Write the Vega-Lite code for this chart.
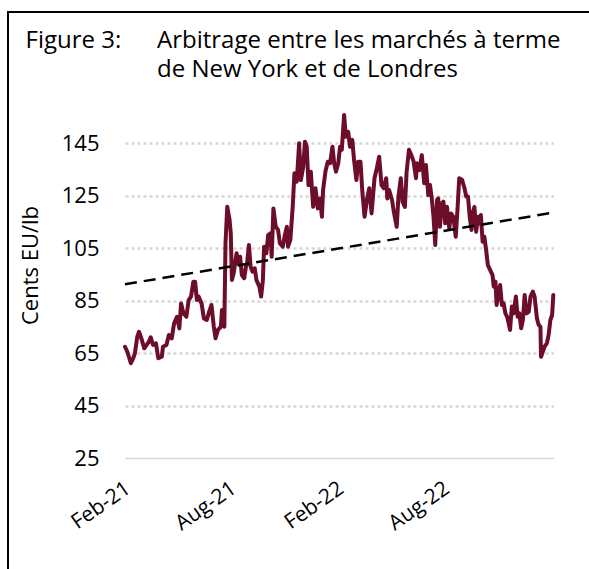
{
  "$schema": "https://vega.github.io/schema/vega-lite/v6.json",
  "width": 584,
  "height": 560,
  "autosize": {"type": "none"},
  "padding": {"left": 8, "top": 12, "right": -3, "bottom": -3},
  "background": "white",
  "view": {"stroke": "#000000", "strokeWidth": 2, "fill": "white"},
  "title": {
    "text": ["Arbitrage entre les marchés à terme", "de New York et de Londres"],
    "anchor": "start",
    "frame": "group",
    "orient": "top",
    "offset": 0,
    "dx": 149,
    "dy": 89,
    "baseline": "alphabetic",
    "lineHeight": 29,
    "font": "Open Sans",
    "fontSize": 24,
    "fontWeight": "normal",
    "color": "#000000"
  },
  "datasets": {
    "series": [
      {"date": "2021-01-26", "value": 67.5},
      {"date": "2021-01-30", "value": 65.6},
      {"date": "2021-02-05", "value": 61.2},
      {"date": "2021-02-09", "value": 63.1},
      {"date": "2021-02-12", "value": 65.0},
      {"date": "2021-02-16", "value": 71.3},
      {"date": "2021-02-19", "value": 73.2},
      {"date": "2021-02-23", "value": 70.7},
      {"date": "2021-02-28", "value": 66.9},
      {"date": "2021-03-04", "value": 68.2},
      {"date": "2021-03-08", "value": 69.4},
      {"date": "2021-03-11", "value": 71.1},
      {"date": "2021-03-15", "value": 68.2},
      {"date": "2021-03-20", "value": 68.8},
      {"date": "2021-03-24", "value": 63.1},
      {"date": "2021-03-30", "value": 63.7},
      {"date": "2021-04-01", "value": 67.5},
      {"date": "2021-04-07", "value": 68.2},
      {"date": "2021-04-11", "value": 72.0},
      {"date": "2021-04-16", "value": 70.7},
      {"date": "2021-04-20", "value": 76.4},
      {"date": "2021-04-25", "value": 78.9},
      {"date": "2021-04-29", "value": 74.5},
      {"date": "2021-05-02", "value": 84.0},
      {"date": "2021-05-06", "value": 80.2},
      {"date": "2021-05-11", "value": 78.9},
      {"date": "2021-05-15", "value": 85.3},
      {"date": "2021-05-19", "value": 86.6},
      {"date": "2021-05-23", "value": 92.3},
      {"date": "2021-05-26", "value": 92.3},
      {"date": "2021-05-29", "value": 85.3},
      {"date": "2021-06-01", "value": 86.6},
      {"date": "2021-06-06", "value": 84.0},
      {"date": "2021-06-10", "value": 78.3},
      {"date": "2021-06-15", "value": 77.7},
      {"date": "2021-06-19", "value": 80.8},
      {"date": "2021-06-23", "value": 83.4},
      {"date": "2021-06-27", "value": 75.1},
      {"date": "2021-06-30", "value": 70.7},
      {"date": "2021-07-04", "value": 73.9},
      {"date": "2021-07-09", "value": 75.1},
      {"date": "2021-07-11", "value": 81.5},
      {"date": "2021-07-15", "value": 75.1},
      {"date": "2021-07-17", "value": 106.9},
      {"date": "2021-07-20", "value": 120.8},
      {"date": "2021-07-24", "value": 115.8},
      {"date": "2021-07-26", "value": 110.7},
      {"date": "2021-07-28", "value": 92.9},
      {"date": "2021-07-31", "value": 95.5},
      {"date": "2021-08-02", "value": 98.6},
      {"date": "2021-08-05", "value": 103.1},
      {"date": "2021-08-08", "value": 99.3},
      {"date": "2021-08-11", "value": 101.8},
      {"date": "2021-08-14", "value": 94.8},
      {"date": "2021-08-18", "value": 93.6},
      {"date": "2021-08-21", "value": 98.0},
      {"date": "2021-08-23", "value": 99.3},
      {"date": "2021-08-26", "value": 106.3},
      {"date": "2021-08-29", "value": 98.0},
      {"date": "2021-09-01", "value": 96.1},
      {"date": "2021-09-05", "value": 97.4},
      {"date": "2021-09-08", "value": 92.9},
      {"date": "2021-09-13", "value": 90.4},
      {"date": "2021-09-16", "value": 86.6},
      {"date": "2021-09-19", "value": 92.9},
      {"date": "2021-09-21", "value": 105.6},
      {"date": "2021-09-25", "value": 103.1},
      {"date": "2021-09-28", "value": 110.0},
      {"date": "2021-10-02", "value": 110.7},
      {"date": "2021-10-04", "value": 101.8},
      {"date": "2021-10-07", "value": 120.2},
      {"date": "2021-10-11", "value": 113.2},
      {"date": "2021-10-15", "value": 112.0},
      {"date": "2021-10-18", "value": 106.9},
      {"date": "2021-10-23", "value": 105.6},
      {"date": "2021-10-26", "value": 109.4},
      {"date": "2021-10-30", "value": 113.2},
      {"date": "2021-11-01", "value": 105.6},
      {"date": "2021-11-05", "value": 108.2},
      {"date": "2021-11-09", "value": 120.8},
      {"date": "2021-11-12", "value": 133.6},
      {"date": "2021-11-16", "value": 130.4},
      {"date": "2021-11-20", "value": 145.0},
      {"date": "2021-11-23", "value": 131.0},
      {"date": "2021-11-27", "value": 136.1},
      {"date": "2021-11-30", "value": 145.6},
      {"date": "2021-12-03", "value": 143.7},
      {"date": "2021-12-06", "value": 129.1},
      {"date": "2021-12-10", "value": 134.2},
      {"date": "2021-12-14", "value": 120.8},
      {"date": "2021-12-18", "value": 127.9},
      {"date": "2021-12-22", "value": 120.2},
      {"date": "2021-12-26", "value": 124.0},
      {"date": "2021-12-29", "value": 117.0},
      {"date": "2021-12-31", "value": 127.2},
      {"date": "2022-01-04", "value": 134.2},
      {"date": "2022-01-08", "value": 138.0},
      {"date": "2022-01-12", "value": 137.4},
      {"date": "2022-01-16", "value": 143.7},
      {"date": "2022-01-19", "value": 137.4},
      {"date": "2022-01-22", "value": 134.2},
      {"date": "2022-01-26", "value": 137.4},
      {"date": "2022-01-29", "value": 143.7},
      {"date": "2022-02-01", "value": 142.5},
      {"date": "2022-02-05", "value": 155.8},
      {"date": "2022-02-08", "value": 147.5},
      {"date": "2022-02-12", "value": 149.4},
      {"date": "2022-02-15", "value": 143.7},
      {"date": "2022-02-19", "value": 146.3},
      {"date": "2022-02-22", "value": 138.6},
      {"date": "2022-02-26", "value": 131.0},
      {"date": "2022-03-01", "value": 138.0},
      {"date": "2022-03-05", "value": 138.0},
      {"date": "2022-03-08", "value": 127.2},
      {"date": "2022-03-12", "value": 117.0},
      {"date": "2022-03-16", "value": 123.4},
      {"date": "2022-03-20", "value": 127.9},
      {"date": "2022-03-24", "value": 118.3},
      {"date": "2022-03-29", "value": 131.7},
      {"date": "2022-04-02", "value": 135.5},
      {"date": "2022-04-06", "value": 139.9},
      {"date": "2022-04-10", "value": 129.1},
      {"date": "2022-04-14", "value": 127.9},
      {"date": "2022-04-18", "value": 131.7},
      {"date": "2022-04-20", "value": 124.0},
      {"date": "2022-04-23", "value": 127.2},
      {"date": "2022-04-28", "value": 123.4},
      {"date": "2022-05-01", "value": 119.0},
      {"date": "2022-05-06", "value": 113.2},
      {"date": "2022-05-09", "value": 124.7},
      {"date": "2022-05-13", "value": 131.7},
      {"date": "2022-05-16", "value": 122.8},
      {"date": "2022-05-20", "value": 120.8},
      {"date": "2022-05-23", "value": 134.2},
      {"date": "2022-05-27", "value": 142.5},
      {"date": "2022-05-31", "value": 140.5},
      {"date": "2022-06-04", "value": 138.0},
      {"date": "2022-06-08", "value": 131.7},
      {"date": "2022-06-10", "value": 137.4},
      {"date": "2022-06-14", "value": 134.8},
      {"date": "2022-06-18", "value": 140.5},
      {"date": "2022-06-22", "value": 129.8},
      {"date": "2022-06-25", "value": 136.7},
      {"date": "2022-06-29", "value": 125.3},
      {"date": "2022-07-02", "value": 129.1},
      {"date": "2022-07-05", "value": 124.0},
      {"date": "2022-07-08", "value": 117.0},
      {"date": "2022-07-11", "value": 106.3},
      {"date": "2022-07-14", "value": 123.4},
      {"date": "2022-07-16", "value": 124.0},
      {"date": "2022-07-19", "value": 113.2},
      {"date": "2022-07-22", "value": 122.1},
      {"date": "2022-07-25", "value": 122.8},
      {"date": "2022-07-28", "value": 114.5},
      {"date": "2022-07-31", "value": 120.8},
      {"date": "2022-08-04", "value": 112.6},
      {"date": "2022-08-07", "value": 118.3},
      {"date": "2022-08-11", "value": 117.0},
      {"date": "2022-08-15", "value": 109.4},
      {"date": "2022-08-18", "value": 119.6},
      {"date": "2022-08-21", "value": 131.7},
      {"date": "2022-08-26", "value": 131.0},
      {"date": "2022-08-30", "value": 127.9},
      {"date": "2022-09-02", "value": 124.7},
      {"date": "2022-09-05", "value": 124.7},
      {"date": "2022-09-08", "value": 117.0},
      {"date": "2022-09-11", "value": 112.0},
      {"date": "2022-09-13", "value": 118.3},
      {"date": "2022-09-16", "value": 120.8},
      {"date": "2022-09-19", "value": 111.3},
      {"date": "2022-09-22", "value": 117.0},
      {"date": "2022-09-25", "value": 114.5},
      {"date": "2022-09-27", "value": 117.7},
      {"date": "2022-09-30", "value": 107.5},
      {"date": "2022-10-03", "value": 109.4},
      {"date": "2022-10-06", "value": 104.4},
      {"date": "2022-10-09", "value": 98.6},
      {"date": "2022-10-13", "value": 96.7},
      {"date": "2022-10-17", "value": 94.8},
      {"date": "2022-10-19", "value": 90.4},
      {"date": "2022-10-22", "value": 92.3},
      {"date": "2022-10-24", "value": 83.4},
      {"date": "2022-10-27", "value": 87.9},
      {"date": "2022-10-30", "value": 91.0},
      {"date": "2022-11-02", "value": 83.4},
      {"date": "2022-11-05", "value": 84.0},
      {"date": "2022-11-08", "value": 80.2},
      {"date": "2022-11-11", "value": 78.9},
      {"date": "2022-11-13", "value": 77.0},
      {"date": "2022-11-16", "value": 73.9},
      {"date": "2022-11-19", "value": 82.8},
      {"date": "2022-11-22", "value": 80.2},
      {"date": "2022-11-26", "value": 86.6},
      {"date": "2022-11-29", "value": 78.9},
      {"date": "2022-12-02", "value": 80.2},
      {"date": "2022-12-05", "value": 74.5},
      {"date": "2022-12-08", "value": 77.7},
      {"date": "2022-12-11", "value": 87.2},
      {"date": "2022-12-14", "value": 80.2},
      {"date": "2022-12-18", "value": 80.8},
      {"date": "2022-12-21", "value": 86.6},
      {"date": "2022-12-25", "value": 88.5},
      {"date": "2022-12-28", "value": 86.6},
      {"date": "2023-01-01", "value": 78.3},
      {"date": "2023-01-04", "value": 75.8},
      {"date": "2023-01-07", "value": 75.1},
      {"date": "2023-01-08", "value": 63.7},
      {"date": "2023-01-11", "value": 65.6},
      {"date": "2023-01-14", "value": 67.5},
      {"date": "2023-01-18", "value": 68.8},
      {"date": "2023-01-21", "value": 72.0},
      {"date": "2023-01-24", "value": 77.7},
      {"date": "2023-01-27", "value": 79.6},
      {"date": "2023-01-29", "value": 87.2}
    ],
    "trend": [
      {"date": "2021-01-26", "value": 91.3},
      {"date": "2023-01-29", "value": 118.6}
    ]
  },
  "encoding": {
    "x": {
      "field": "date",
      "type": "temporal",
      "scale": {
        "type": "utc",
        "domain": [
          {"year": 2021, "month": 1, "date": 26, "utc": true},
          {"year": 2023, "month": 1, "date": 29, "utc": true}
        ],
        "range": [117, 545.3],
        "nice": false
      },
      "axis": {
        "orient": "bottom",
        "offset": -113.7,
        "grid": false,
        "domain": false,
        "ticks": false,
        "values": [
          {"year": 2021, "month": 2, "date": 1, "utc": true},
          {"year": 2021, "month": 8, "date": 1, "utc": true},
          {"year": 2022, "month": 2, "date": 1, "utc": true},
          {"year": 2022, "month": 8, "date": 1, "utc": true}
        ],
        "format": "%b-%y",
        "labelAngle": -35,
        "labelAlign": "right",
        "labelBaseline": "top",
        "labelPadding": 19,
        "labelOffset": -7,
        "labelFont": "Open Sans",
        "labelFontSize": 21,
        "labelColor": "#000000",
        "labelOverlap": false,
        "labelBound": false,
        "labelFlush": false,
        "title": "Figure 3:",
        "titleX": 17,
        "titleY": -411,
        "titleAngle": 0,
        "titleAlign": "left",
        "titleBaseline": "alphabetic",
        "titleFont": "Open Sans",
        "titleFontSize": 24,
        "titleFontWeight": "normal",
        "titleColor": "#000000"
      }
    },
    "y": {
      "field": "value",
      "type": "quantitative",
      "scale": {"domain": [25, 145], "range": [446.3, 131.3], "nice": false, "zero": false},
      "axis": {
        "orient": "left",
        "offset": -91,
        "values": [25, 45, 65, 85, 105, 125, 145],
        "domain": false,
        "ticks": false,
        "labelPadding": 0,
        "labelAlign": "right",
        "labelBaseline": "middle",
        "labelFont": "Open Sans",
        "labelFontSize": 22,
        "labelColor": "#000000",
        "labelBound": false,
        "labelFlush": false,
        "grid": true,
        "gridColor": "#d6d6d6",
        "gridWidth": {"condition": {"test": "datum.value === 25", "value": 1.5}, "value": 2.5},
        "gridDash": {"condition": {"test": "datum.value === 25", "value": []}, "value": [3, 3]},
        "title": "Cents EU/lb",
        "titleX": -62,
        "titleY": 253,
        "titleAngle": -90,
        "titleAlign": "center",
        "titleBaseline": "alphabetic",
        "titleFont": "Open Sans",
        "titleFontSize": 22,
        "titleFontWeight": "normal",
        "titleColor": "#000000"
      }
    }
  },
  "layer": [
    {
      "data": {"name": "series"},
      "mark": {"type": "line", "color": "#6c0d2a", "strokeWidth": 4, "strokeJoin": "round", "strokeCap": "round"}
    },
    {
      "data": {"name": "trend"},
      "mark": {"type": "line", "color": "#000000", "strokeWidth": 2.5, "strokeDash": [12, 7]}
    }
  ]
}
